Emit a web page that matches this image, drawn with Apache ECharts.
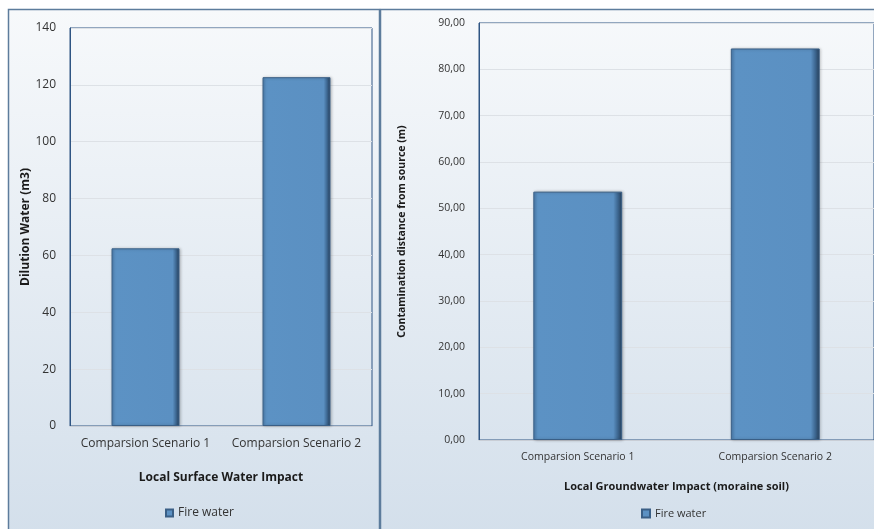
<!DOCTYPE html>
<html>
<head>
<meta charset="utf-8">
<script src="https://cdn.jsdelivr.net/npm/echarts@6/dist/echarts.min.js"></script>
<style>
  html, body { margin: 0; padding: 0; background: #ffffff; }
  #chart { width: 874px; height: 529px; }
</style>
</head>
<body>
<div id="chart"></div>
<script>
// Categories and values for the two panels
const categories = ['Comparsion Scenario 1', 'Comparsion Scenario 2'];
const seriesName = 'Fire water';
const surfaceWater = [62.5, 122.7];      // Dilution water (m3)
const groundwater = [53.6, 84.5];        // Contamination distance (m)
const surfaceTicks = { min: 0, max: 140, interval: 20 };
const groundTicks = { min: 0, max: 90, interval: 10 };

const FONT = '"Open Sans", "Noto Sans", sans-serif';
const TEXT = '#333333';

// Bevelled bar fill: light left edge, flat body, dark right edge
const barFill = new echarts.graphic.LinearGradient(0, 0, 1, 0, [
  { offset: 0, color: '#4d7fb0' },
  { offset: 0.05, color: '#5c92c4' },
  { offset: 0.9, color: '#5b90c2' },
  { offset: 0.95, color: '#3d6791' },
  { offset: 1, color: '#263f5a' }
]);

const panelFill = new echarts.graphic.LinearGradient(0, 0, 0, 1, [
  { offset: 0, color: '#f7f9fb' },
  { offset: 1, color: '#d3dfeb' }
]);

const chart = echarts.init(document.getElementById('chart'), null, { renderer: 'canvas' });

function barSeries(data, xi) {
  return {
    name: seriesName,
    type: 'bar',
    xAxisIndex: xi,
    yAxisIndex: xi,
    data: data,
    barWidth: '45%',
    itemStyle: {
      color: barFill,
      borderColor: '#3a5f86',
      borderWidth: 1,
      shadowColor: 'rgba(0,0,0,0.25)',
      shadowBlur: 3,
      shadowOffsetX: 1,
      shadowOffsetY: 0
    }
  };
}

chart.setOption({
  animation: false,
  textStyle: { fontFamily: FONT },
  graphic: [
    { type: 'rect', z: -10, shape: { x: 8.5, y: 9.5, width: 371, height: 530 },
      style: { fill: panelFill, stroke: '#5d7c9c', lineWidth: 1.5 } },
    { type: 'rect', z: -10, shape: { x: 380.5, y: 9.5, width: 500, height: 530 },
      style: { fill: panelFill, stroke: '#5d7c9c', lineWidth: 1.5 } }
  ],
  grid: [
    { left: 70, top: 28, width: 302, height: 398, show: true,
      borderColor: '#2f5583', borderWidth: 1, backgroundColor: 'transparent' },
    { left: 479, top: 23, width: 400, height: 417, show: true,
      borderColor: '#2f5583', borderWidth: 1, backgroundColor: 'transparent' }
  ],
  legend: [
    { data: [seriesName], left: 160, top: 502, icon: 'rect', itemWidth: 7, itemHeight: 7,
      itemGap: 4, textStyle: { fontSize: 12, color: TEXT, fontFamily: FONT } },
    { data: [seriesName], left: 636, top: 503, icon: 'rect', itemWidth: 8, itemHeight: 8,
      itemGap: 4, textStyle: { fontSize: 11, color: TEXT, fontFamily: FONT } }
  ],
  xAxis: [
    { type: 'category', gridIndex: 0, data: categories,
      name: 'Local Surface Water Impact', nameLocation: 'middle', nameGap: 46,
      nameTextStyle: { fontWeight: 'bold', fontSize: 12, color: '#1a1a1a' },
      axisLine: { lineStyle: { color: '#c9ced6' } }, axisTick: { show: false },
      axisLabel: { fontSize: 12, color: TEXT, margin: 12, interval: 0 } },
    { type: 'category', gridIndex: 1, data: categories,
      name: 'Local Groundwater Impact (moraine soil)', nameLocation: 'middle', nameGap: 41,
      nameTextStyle: { fontWeight: 'bold', fontSize: 11, color: '#1a1a1a' },
      axisLine: { lineStyle: { color: '#c9ced6' } }, axisTick: { show: false },
      axisLabel: { fontSize: 10.5, color: TEXT, margin: 12, interval: 0 } }
  ],
  yAxis: [
    { type: 'value', gridIndex: 0, min: surfaceTicks.min, max: surfaceTicks.max, interval: surfaceTicks.interval,
      name: 'Dilution Water (m3)', nameLocation: 'middle', nameGap: 34,
      nameTextStyle: { fontWeight: 'bold', fontSize: 12, color: '#1a1a1a' },
      axisLine: { show: true, lineStyle: { color: '#2f5583' } }, axisTick: { show: false },
      axisLabel: { fontSize: 12, color: TEXT, margin: 14 },
      splitLine: { lineStyle: { color: '#dde1e6' } } },
    { type: 'value', gridIndex: 1, min: groundTicks.min, max: groundTicks.max, interval: groundTicks.interval,
      name: 'Contamination distance from source (m)', nameLocation: 'middle', nameGap: 71,
      nameTextStyle: { fontWeight: 'bold', fontSize: 10.5, color: '#1a1a1a' },
      axisLine: { show: true, lineStyle: { color: '#2f5583' } }, axisTick: { show: false },
      axisLabel: { fontSize: 10.5, color: TEXT, margin: 14,
        formatter: v => v.toFixed(2).replace('.', ',') },
      splitLine: { lineStyle: { color: '#dde1e6' } } }
  ],
  series: [barSeries(surfaceWater, 0), barSeries(groundwater, 1)]
});
</script>
</body>
</html>
